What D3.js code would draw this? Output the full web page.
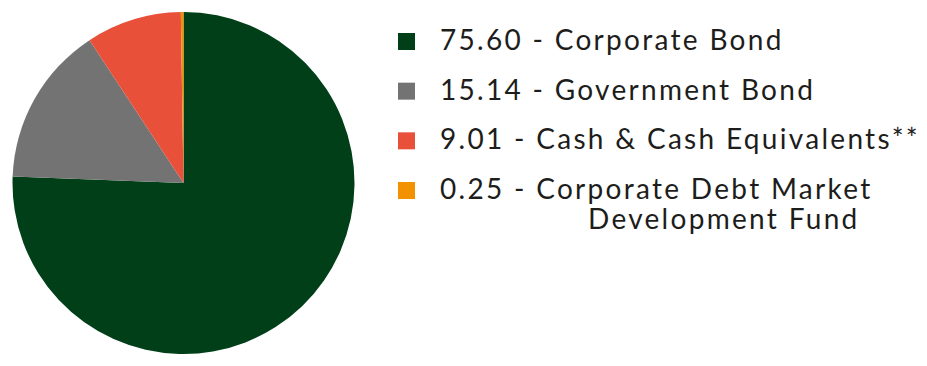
<!DOCTYPE html>
<html>
<head>
<meta charset="utf-8">
<script src="https://cdn.jsdelivr.net/npm/d3@7"></script>
<style>
  body { margin: 0; background: #fff; }
  svg text { font-family: "Lato", "Open Sans", sans-serif; fill: #1d1d1b; letter-spacing: 2.3px; }
</style>
</head>
<body>
<div id="chart"></div>
<script>
// allocation data
var categories = ["Corporate Bond", "Government Bond", "Cash & Cash Equivalents**", "Corporate Debt Market Development Fund"];
var values = [75.60, 15.14, 9.01, 0.25];
var valueLabels = ["75.60", "15.14", "9.01", "0.25"];
var colors = ["#003f18", "#737373", "#e8503a", "#f39200"];

var width = 927, height = 366;
var svg = d3.select("#chart").append("svg")
    .attr("width", width)
    .attr("height", height);

var data = categories.map(function (c, i) {
  return { name: c, value: values[i], label: valueLabels[i], color: colors[i] };
});

//pie, starts at 12 o'clock and goes clockwise
var pie = d3.pie().sort(null).value(function (d) { return d.value; });
var arc = d3.arc().innerRadius(0).outerRadius(171);

svg.append("g")
    .attr("transform", "translate(183.5,183)")
  .selectAll("path")
  .data(pie(data))
  .enter().append("path")
    .attr("d", arc)
    .attr("fill", function (d) { return d.data.color; });

//legend
var legend = svg.append("g").attr("transform", "translate(398,0)");
var rowY = d3.scalePoint().domain(categories).range([50, 199]);

var rows = legend.selectAll("g.row")
  .data(data)
  .enter().append("g")
    .attr("class", "row")
    .attr("transform", function (d) { return "translate(0," + rowY(d.name) + ")"; });

rows.append("rect")
    .attr("x", 0)
    .attr("y", -17)
    .attr("width", 17)
    .attr("height", 17)
    .attr("fill", function (d) { return d.color; });

var txt = rows.append("text")
    .attr("x", 42)
    .attr("y", 0)
    .style("font-size", "28px");

txt.each(function (d) {
  var t = d3.select(this);
  if (d.name === "Corporate Debt Market Development Fund") {
    t.append("tspan").text(d.label + " - Corporate Debt Market");
    t.append("tspan").attr("x", 190).attr("dy", 30).text("Development Fund");
  } else {
    t.text(d.label + " - " + d.name);
  }
});
</script>
</body>
</html>
